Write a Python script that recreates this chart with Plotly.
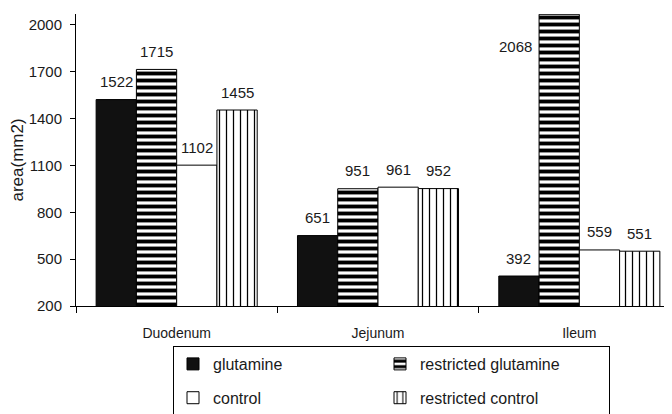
import plotly.graph_objects as go

categories = ["Duodenum", "Jejunum", "Ileum"]
series_names = ["glutamine", "restricted glutamine", "control", "restricted control"]
glutamine = [1522, 651, 392]
restricted_glutamine = [1715, 951, 2068]
control = [1102, 961, 559]
restricted_control = [1455, 952, 551]
y_ticks = [200, 500, 800, 1100, 1400, 1700, 2000]

values = [glutamine, restricted_glutamine, control, restricted_control]
patterns = [
    dict(shape="", fillmode="replace"),
    dict(shape="-", size=7, solidity=0.55, fgcolor="black", bgcolor="white", fillmode="replace"),
    dict(shape="", fillmode="replace"),
    dict(shape="|", size=7, solidity=0.18, fgcolor="black", bgcolor="white", fillmode="replace"),
]
fills = ["#111111", "white", "white", "white"]
legend_widths = [162, 184, 162, 184]

xpos = list(range(len(categories)))
FONT = "Liberation Sans, Arial, sans-serif"
TXT = "#1a1a1a"
fig = go.Figure()
for i, (name, vals, pat, col, lw) in enumerate(zip(series_names, values, patterns, fills, legend_widths)):
    fig.add_trace(go.Bar(
        x=xpos, y=vals, name=name, legendgroup="g%d" % i, legendwidth=lw,
        marker=dict(color=col, pattern=pat, line=dict(color="black", width=1)),
    ))

offsets = [-0.3, -0.1, 0.1, 0.3]
annotations = []
ymax = 2070
for si, vals in enumerate(values):
    for ci, v in enumerate(vals):
        if v > ymax - 60:
            annotations.append(dict(x=ci + offsets[si] - 0.1, y=v, xref="x", yref="y",
                                    text=str(v), showarrow=False, xanchor="right",
                                    yanchor="middle", xshift=-5, yshift=-32,
                                    font=dict(size=15, color=TXT, family=FONT)))
        else:
            annotations.append(dict(x=ci + offsets[si], y=v, xref="x", yref="y",
                                    text=str(v), showarrow=False, yanchor="middle",
                                    yshift=18,
                                    font=dict(size=15, color=TXT, family=FONT)))

fig.update_layout(
    width=672, height=414,
    margin=dict(l=68, r=0, t=6, b=116, autoexpand=False),
    paper_bgcolor="white", plot_bgcolor="white",
    barmode="group", bargap=0.2, bargroupgap=0,
    font=dict(family=FONT, color=TXT),
    showlegend=True,
    legend=dict(orientation="h", x=0.1606, y=-0.137, xanchor="left", yanchor="top",
                entrywidthmode="pixels",
                bordercolor="black", borderwidth=1, bgcolor="white",
                font=dict(size=16, family=FONT, color=TXT),
                traceorder="grouped", tracegroupgap=10),
    annotations=annotations,
)
fig.update_xaxes(
    range=[-0.5, 2.5], tickvals=xpos, ticktext=categories, ticks="",
    ticklabelstandoff=14, automargin=False,
    showline=True, linecolor="black", linewidth=1, showgrid=False, zeroline=False,
    tickfont=dict(size=14, family=FONT, color=TXT),
    minor=dict(tick0=0.5, dtick=1, ticks="outside", ticklen=6, tickcolor="black", showgrid=False),
)
fig.update_yaxes(
    range=[200, ymax], tickvals=y_ticks, ticks="outside", ticklen=5, tickcolor="black",
    showline=True, linecolor="black", linewidth=1, showgrid=False, zeroline=False,
    automargin=False, ticklabelstandoff=5,
    tickfont=dict(size=15, family=FONT, color=TXT),
    title=dict(text="area(mm2)", font=dict(size=17, family=FONT, color=TXT), standoff=8),
)
fig.write_html("out.html")
